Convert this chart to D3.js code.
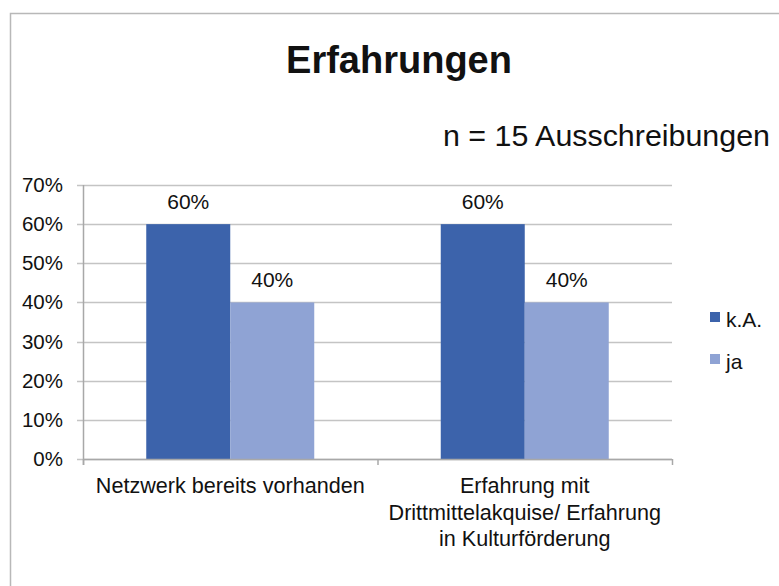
<!DOCTYPE html>
<html>
<head>
<meta charset="utf-8">
<script src="https://cdn.jsdelivr.net/npm/d3@7"></script>
<style>
  body { margin: 0; background: #fff; }
  svg text { font-family: "Liberation Sans", Arial, sans-serif; fill: #111; }
</style>
</head>
<body>
<svg width="779" height="586"></svg>
<script>
var categories = [["Netzwerk bereits vorhanden"], ["Erfahrung mit", "Drittmittelakquise/ Erfahrung", "in Kulturförderung"]],
    series = ["k.A.", "ja"],
    kaValues = [0.6, 0.6],
    jaValues = [0.4, 0.4],
    yTicks = [0, 0.1, 0.2, 0.3, 0.4, 0.5, 0.6, 0.7],
    colors = ["#3c63ab", "#8fa3d4"]

var svg = d3.select('svg'),
    margin = {left: 83, right: 107, top: 185, bottom: 127},
    width = 779, height = 586,
    plotW = width - margin.left - margin.right,
    plotH = height - margin.top - margin.bottom

// frame
svg.append('rect')
    .attr('x', 10.5).attr('y', 13.5)
    .attr('width', 800).attr('height', 600)
    .attr('fill', 'none')
    .attr('stroke', '#b8b8b8')
    .attr('stroke-width', 1.5)

svg.append('text')
    .attr('x', 399).attr('y', 73)
    .attr('text-anchor', 'middle')
    .style('font-size', '38px').style('font-weight', 'bold')
    .text('Erfahrungen')

svg.append('text')
    .attr('x', 443).attr('y', 146)
    .style('font-size', '30.4px')
    .text('n = 15 Ausschreibungen')

var g = svg.append('g').attr('transform', `translate(${margin.left},${margin.top})`)

var x0 = d3.scaleBand().domain(d3.range(categories.length)).range([0, plotW]).padding(0)
var x1 = d3.scaleBand().domain(series).range([0, x0.bandwidth()]).paddingInner(0).paddingOuter(0.753)
var y = d3.scaleLinear().domain([0, 0.7]).range([plotH, 0])

// gridlines
g.selectAll('.grid').data(yTicks).enter().append('line')
    .attr('x1', -6).attr('x2', plotW)
    .attr('y1', d => Math.round(y(d)) + 0.5).attr('y2', d => Math.round(y(d)) + 0.5)
    .attr('stroke', '#c4c4c4').attr('stroke-width', 1.5)

g.selectAll('.ytick').data(yTicks).enter().append('text')
    .attr('x', -20).attr('y', d => y(d) + 7)
    .attr('text-anchor', 'end')
    .style('font-size', '20.5px')
    .text(d => d3.format('.0%')(d))

var data = categories.map((c, i) => ({i: i, values: [{s: series[0], v: kaValues[i]}, {s: series[1], v: jaValues[i]}]}))

var groups = g.selectAll('.cat').data(data).enter().append('g')
    .attr('transform', d => `translate(${x0(d.i)},0)`)

groups.selectAll('rect').data(d => d.values).enter().append('rect')
    .attr('x', d => x1(d.s))
    .attr('width', x1.bandwidth())
    .attr('y', d => y(d.v))
    .attr('height', d => plotH - y(d.v))
    .attr('fill', (d, i) => colors[i])

groups.selectAll('.lbl').data(d => d.values).enter().append('text')
    .attr('x', d => x1(d.s) + x1.bandwidth() / 2)
    .attr('y', d => y(d.v) - 15)
    .attr('text-anchor', 'middle')
    .style('font-size', '21px')
    .text(d => d3.format('.0%')(d.v))

// axes lines
g.append('line').attr('x1', 0.5).attr('x2', 0.5).attr('y1', 0).attr('y2', plotH + 6)
    .attr('stroke', '#a8a8a8').attr('stroke-width', 1.5)
g.append('line').attr('x1', 0).attr('x2', plotW).attr('y1', plotH + 0.5).attr('y2', plotH + 0.5)
    .attr('stroke', '#a8a8a8').attr('stroke-width', 1.5)
g.selectAll('.xtick').data(d3.range(categories.length + 1)).enter().append('line')
    .attr('x1', d => d * x0.step() + 0.5).attr('x2', d => d * x0.step() + 0.5)
    .attr('y1', plotH).attr('y2', plotH + 6)
    .attr('stroke', '#a8a8a8').attr('stroke-width', 1.5)

var catText = g.selectAll('.cat-label').data(categories).enter().append('text')
    .attr('text-anchor', 'middle')
    .attr('transform', (d, i) => `translate(${x0(i) + x0.bandwidth() / 2},${plotH + 34})`)
    .style('font-size', '21.6px')
catText.selectAll('tspan').data(d => d).enter().append('tspan')
    .attr('x', 0).attr('y', (d, i) => i * 26.5)
    .text(d => d)

// legend
var legend = svg.append('g').attr('transform', 'translate(710,312)')
var li = legend.selectAll('g').data(series).enter().append('g')
    .attr('transform', (d, i) => `translate(0,${i * 42})`)
li.append('rect').attr('width', 10).attr('height', 10).attr('fill', (d, i) => colors[i])
li.append('text').attr('x', 16).attr('y', 15).style('font-size', '21px').text(d => d)
</script>
</body>
</html>
